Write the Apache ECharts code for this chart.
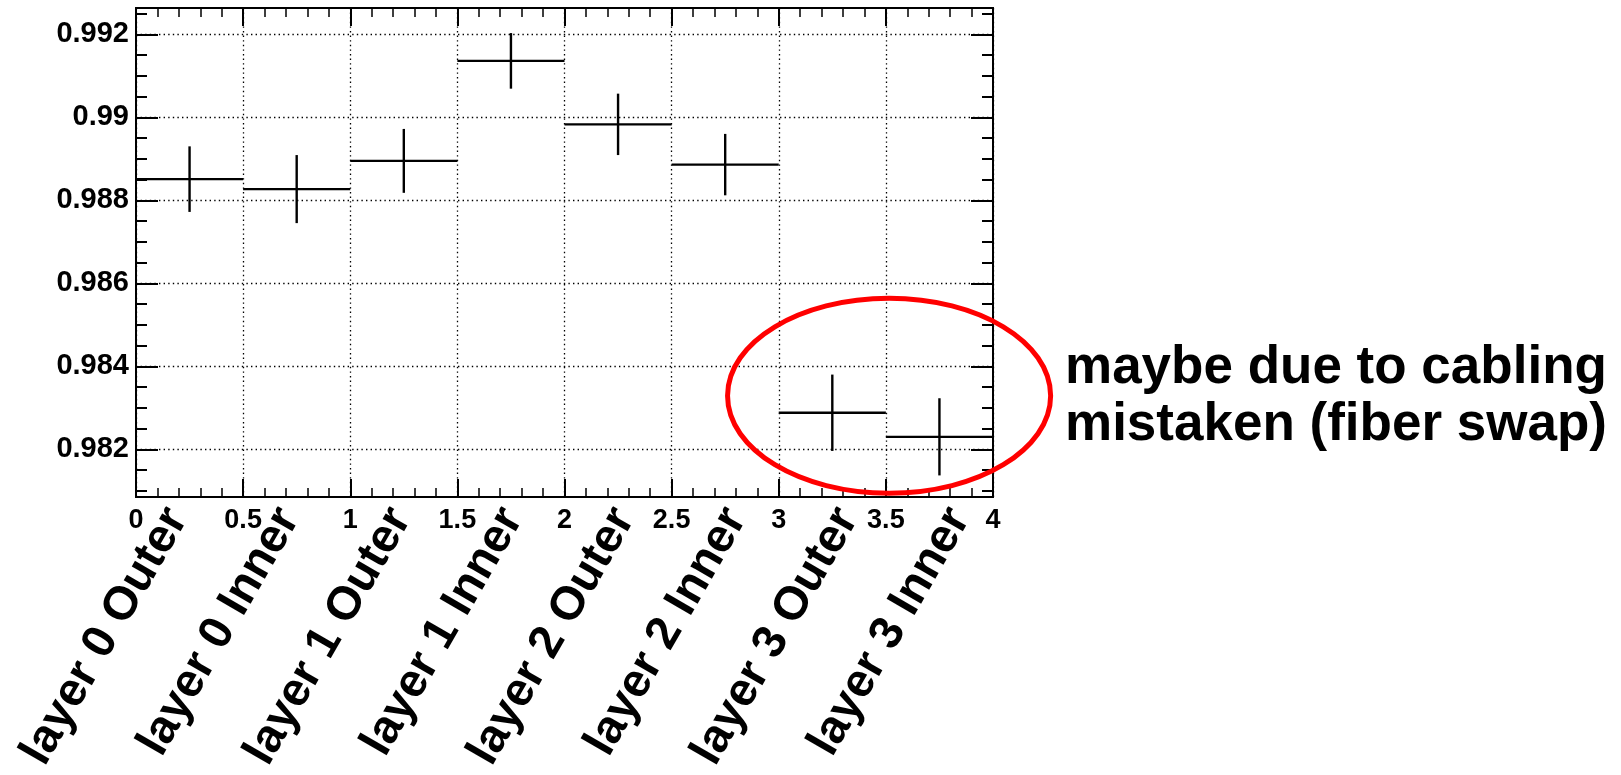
<!DOCTYPE html>
<html>
<head>
<meta charset="utf-8">
<script src="https://cdn.jsdelivr.net/npm/echarts@6/dist/echarts.min.js"></script>
<style>
  html, body { margin: 0; padding: 0; background: #ffffff; }
  #chart { width: 1621px; height: 775px; }
</style>
</head>
<body>
<div id="chart"></div>
<script>
// Fiber layer efficiency per bin (8 bins of width 0.5 on a 0..4 axis)
const categories = [
  'layer 0 Outer', 'layer 0 Inner', 'layer 1 Outer', 'layer 1 Inner',
  'layer 2 Outer', 'layer 2 Inner', 'layer 3 Outer', 'layer 3 Inner'
];
const efficiency = [0.98851, 0.98827, 0.98895, 0.99136, 0.98983, 0.98886, 0.98288, 0.98230];
const efficiencyError = [0.00079, 0.00082, 0.00077, 0.00067, 0.00074, 0.00074, 0.00092, 0.00093];
const binWidth = 0.5;

// Axis ranges and tick values
const xRange = [0, 4];
const yRange = [0.98085, 0.992634];
const yMajorTicks = [0.982, 0.984, 0.986, 0.988, 0.99, 0.992];
const yMinorTicks = [0.981, 0.9815, 0.9825, 0.983, 0.9835, 0.9845, 0.985, 0.9855,
  0.9865, 0.987, 0.9875, 0.9885, 0.989, 0.9895, 0.9905, 0.991, 0.9915, 0.9925];

// Highlight around the last two bins and its note
const highlightCenter = [3.515, 0.98329];
const highlightRadius = [0.754, 0.00235];
const noteLines = ['maybe due to cabling', 'mistaken (fiber swap)'];

const FONT = '"Liberation Sans", Arial, Helvetica, sans-serif';
const chart = echarts.init(document.getElementById('chart'), null, { renderer: 'canvas' });

const binData = efficiency.map((v, i) => [i * binWidth, (i + 1) * binWidth, (i + 0.5) * binWidth, v, efficiencyError[i]]);

const dotted = { color: '#000', width: 1.3, type: [1.4, 3.2] };
const frameLine = { show: true, onZero: false, lineStyle: { color: '#000', width: 2 } };

function yAxisDef(position, ticks, length, withLabels) {
  return {
    type: 'value', gridIndex: 0, position: position,
    min: yRange[0], max: yRange[1],
    axisLine: frameLine,
    axisTick: { show: true, inside: true, length: length, customValues: ticks, lineStyle: { color: '#000', width: 2 } },
    axisLabel: withLabels ? {
      show: true, customValues: ticks, margin: 7, color: '#000',
      fontFamily: FONT, fontWeight: 'bold', fontSize: 29,
      formatter: v => String(+(+v).toFixed(4))
    } : { show: false },
    splitLine: withLabels ? { show: true, lineStyle: dotted } : { show: false }
  };
}

function xAxisDef(position, withLabels) {
  return {
    type: 'value', gridIndex: 0, position: position,
    min: xRange[0], max: xRange[1], interval: 0.5,
    axisLine: frameLine,
    axisTick: { show: true, inside: true, length: 18, lineStyle: { color: '#000', width: 2 } },
    minorTick: { show: true, splitNumber: 5, length: 9, lineStyle: { color: '#000', width: 1.5 } },
    axisLabel: withLabels ? {
      show: true, margin: 10, color: '#000', showMinLabel: true, showMaxLabel: true,
      fontFamily: FONT, fontWeight: 'bold', fontSize: 27,
      formatter: v => String(+(+v).toFixed(2))
    } : { show: false },
    splitLine: withLabels ? { show: true, lineStyle: dotted } : { show: false }
  };
}

const option = {
  animation: false,
  backgroundColor: '#ffffff',
  grid: [
    { left: 136, top: 8, width: 857, height: 489, containLabel: false },
    // bin-label strip, slightly wider than the plot frame
    { left: 121, top: 8, width: 894, height: 489, containLabel: false }
  ],
  xAxis: [
    xAxisDef('bottom', true),
    xAxisDef('top', false),
    {
      type: 'category', gridIndex: 1, position: 'bottom', data: categories,
      boundaryGap: true,
      axisLine: { show: false }, axisTick: { show: false }, splitLine: { show: false },
      axisLabel: {
        show: true, interval: 0, rotate: 60, margin: 30, color: '#000',
        fontFamily: FONT, fontWeight: 'bold', fontSize: 47
      }
    }
  ],
  yAxis: [
    yAxisDef('left', yMajorTicks, 22, true),
    yAxisDef('left', yMinorTicks, 11, false),
    yAxisDef('right', yMajorTicks, 22, false),
    yAxisDef('right', yMinorTicks, 11, false),
    { type: 'value', gridIndex: 1, show: false }
  ],
  series: [{
    type: 'custom',
    xAxisIndex: 0, yAxisIndex: 0,
    clip: false,
    data: binData,
    renderItem: function (params, api) {
      const lo = api.value(0), hi = api.value(1), mid = api.value(2);
      const v = api.value(3), e = api.value(4);
      const pL = api.coord([lo, v]), pR = api.coord([hi, v]);
      const pT = api.coord([mid, v + e]), pB = api.coord([mid, v - e]);
      const style = { stroke: '#000', lineWidth: 2.4 };
      return {
        type: 'group',
        children: [
          { type: 'line', shape: { x1: pL[0], y1: pL[1], x2: pR[0], y2: pR[1] }, style: style },
          { type: 'line', shape: { x1: pT[0], y1: pT[1], x2: pB[0], y2: pB[1] }, style: style }
        ]
      };
    }
  }]
};

chart.setOption(option);

// Red ellipse placed in data coordinates, plus the note beside it
const c = chart.convertToPixel({ xAxisIndex: 0, yAxisIndex: 0 }, highlightCenter);
const edge = chart.convertToPixel({ xAxisIndex: 0, yAxisIndex: 0 },
  [highlightCenter[0] + highlightRadius[0], highlightCenter[1] + highlightRadius[1]]);
chart.setOption({
  graphic: [
    {
      type: 'ellipse', z: 100,
      shape: { cx: c[0], cy: c[1], rx: Math.abs(edge[0] - c[0]), ry: Math.abs(c[1] - edge[1]) },
      style: { fill: 'none', stroke: '#ff0000', lineWidth: 5 }
    },
    {
      type: 'text', z: 100, x: 1065, y: 340,
      style: {
        text: noteLines.join('\n'), fill: '#000',
        font: 'bold 53px ' + FONT, lineHeight: 57,
        textAlign: 'left', textVerticalAlign: 'top'
      }
    }
  ]
});
</script>
</body>
</html>
